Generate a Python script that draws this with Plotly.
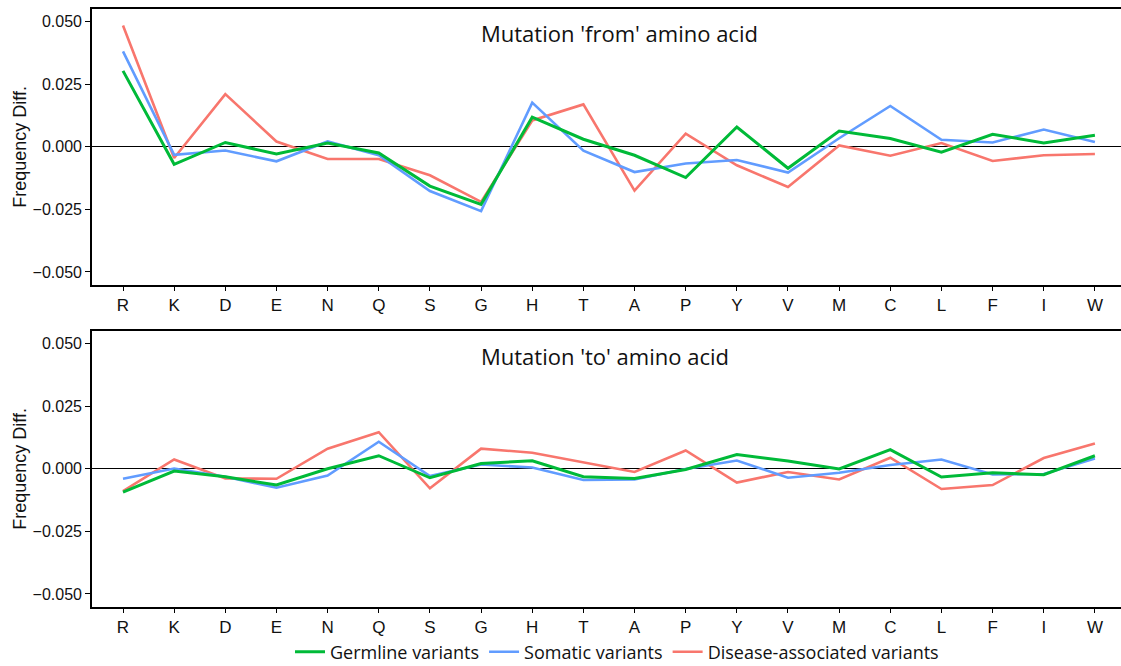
import plotly.graph_objects as go

amino_acids = ["R", "K", "D", "E", "N", "Q", "S", "G", "H", "T",
               "A", "P", "Y", "V", "M", "C", "L", "F", "I", "W"]

# Mutation 'from' amino acid
from_germline = [0.0303, -0.0070, 0.0017, -0.0029, 0.0015, -0.0025, -0.0157, -0.0230, 0.0118, 0.0030,
                 -0.0034, -0.0123, 0.0079, -0.0086, 0.0063, 0.0033, -0.0022, 0.0050, 0.0015, 0.0046]
from_somatic = [0.0381, -0.0032, -0.0015, -0.0058, 0.0021, -0.0034, -0.0177, -0.0257, 0.0176, -0.0016,
                -0.0101, -0.0067, -0.0053, -0.0103, 0.0034, 0.0163, 0.0028, 0.0017, 0.0069, 0.0019]
from_disease = [0.0484, -0.0045, 0.0210, 0.0021, -0.0049, -0.0049, -0.0114, -0.0220, 0.0105, 0.0169,
                -0.0175, 0.0052, -0.0074, -0.0161, 0.0005, -0.0036, 0.0015, -0.0057, -0.0034, -0.0029]

# Mutation 'to' amino acid
to_germline = [-0.0093, -0.0009, -0.0032, -0.0065, 0.0000, 0.0052, -0.0036, 0.0021, 0.0032, -0.0032,
               -0.0039, -0.0003, 0.0057, 0.0031, -0.0001, 0.0076, -0.0033, -0.0016, -0.0024, 0.0052]
to_somatic = [-0.0040, 0.0001, -0.0032, -0.0076, -0.0027, 0.0108, -0.0029, 0.0017, 0.0005, -0.0045,
              -0.0043, -0.0001, 0.0033, -0.0036, -0.0016, 0.0015, 0.0037, -0.0023, -0.0021, 0.0041]
to_disease = [-0.0089, 0.0037, -0.0039, -0.0040, 0.0080, 0.0146, -0.0078, 0.0080, 0.0064, 0.0027,
              -0.0013, 0.0073, -0.0055, -0.0013, -0.0043, 0.0044, -0.0081, -0.0065, 0.0043, 0.0101]

y_ticks = [-0.05, -0.025, 0.0, 0.025, 0.05]
series_names = ["Germline variants", "Somatic variants", "Disease-associated variants"]
colors = ["#00BA38", "#619CFF", "#F8766D"]

W, H = 1121, 666

def px_x(page_x):
    return page_x / W

def px_y(page_y):
    return (H - page_y) / H

fig = go.Figure()

panels = [
    ("x", "y", [from_germline, from_somatic, from_disease]),
    ("x2", "y2", [to_germline, to_somatic, to_disease]),
]
for pi, (xa, ya, data) in enumerate(panels):
    # draw order: disease, somatic, germline (germline on top)
    for si in [2, 1, 0]:
        fig.add_trace(go.Scatter(
            x=amino_acids, y=data[si], mode="lines",
            line=dict(color=colors[si], width=3 if si == 0 else 2.6),
            name=series_names[si], legendgroup=series_names[si],
            showlegend=(pi == 0), legendrank=si + 1,
            xaxis=xa, yaxis=ya,
        ))

top_dom = [px_y(285), px_y(8.5)]
bot_dom = [px_y(607), px_y(330.5)]

arial = "Liberation Sans, Arial, Helvetica, sans-serif"
myriad = "Open Sans, Noto Sans, sans-serif"

xcommon = dict(
    type="category", categoryorder="array", categoryarray=amino_acids,
    range=[-0.606, 19.51], domain=[px_x(92), 1.0], automargin=False,
    showgrid=False, zeroline=False, showline=True, linecolor="black", linewidth=1.6,
    mirror=True, ticks="outside", ticklen=4, tickwidth=1.2, tickcolor="black",
    tickfont=dict(family=arial, size=17, color="#111"),
)
ycommon = dict(
    range=[-0.0552, 0.0552], tickvals=y_ticks, tickformat=".3f", automargin=False,
    showgrid=False, zeroline=True, zerolinecolor="black", zerolinewidth=1,
    showline=True, linecolor="black", linewidth=1.6, mirror=True,
    ticks="outside", ticklen=5, tickwidth=1.2, tickcolor="black",
    tickfont=dict(family=arial, size=16, color="#111"),
)

fig.update_layout(
    width=W, height=H,
    margin=dict(l=0, r=0, t=0, b=0, autoexpand=False),
    plot_bgcolor="white", paper_bgcolor="white",
    xaxis=dict(**xcommon, anchor="y"),
    yaxis=dict(**ycommon, domain=top_dom, anchor="x"),
    xaxis2=dict(**xcommon, anchor="y2"),
    yaxis2=dict(**ycommon, domain=bot_dom, anchor="x2"),
    legend=dict(
        orientation="h", x=px_x(617), xanchor="center", y=px_y(652), yanchor="middle",
        font=dict(family=myriad, size=18, color="#111"),
        bgcolor="rgba(0,0,0,0)",
        traceorder="normal", itemwidth=30,
    ),
    showlegend=True,
)

title_font = dict(family=myriad, size=22, color="#111")
fig.add_annotation(text="Mutation 'from' amino acid", xref="paper", yref="paper",
                   x=px_x(479), y=px_y(33), showarrow=False, font=title_font,
                   xanchor="left", yanchor="middle")
fig.add_annotation(text="Mutation 'to' amino acid", xref="paper", yref="paper",
                   x=px_x(479), y=px_y(356), showarrow=False, font=title_font,
                   xanchor="left", yanchor="middle")

ytitle_font = dict(family=arial, size=18, color="#111")
for (lo, hi) in [top_dom, bot_dom]:
    fig.add_annotation(text="Frequency Diff.", xref="paper", yref="paper",
                       x=px_x(20), y=(lo + hi) / 2, showarrow=False, textangle=-90,
                       font=ytitle_font, xanchor="center", yanchor="middle")

fig.write_html("out.html", config={"displayModeBar": False},
               post_script="document.body.style.margin='0';document.body.style.overflow='hidden';")
